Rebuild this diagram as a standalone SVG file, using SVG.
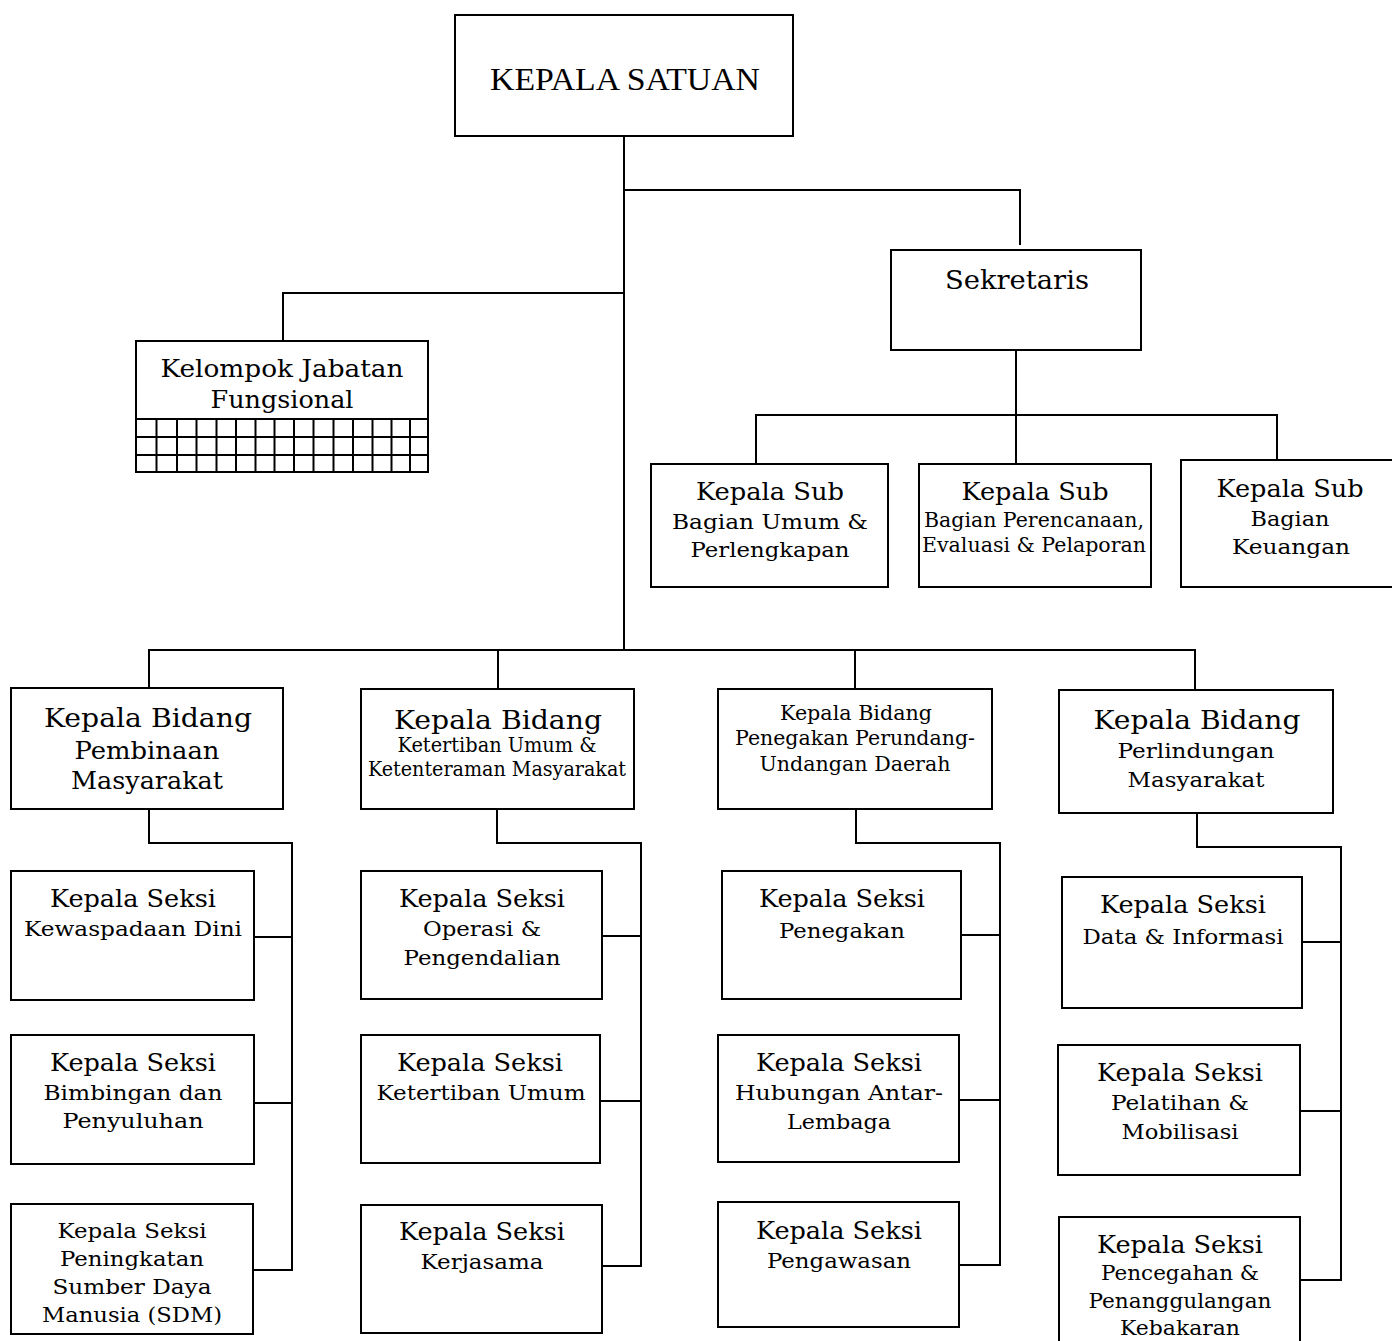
<svg xmlns="http://www.w3.org/2000/svg" width="1392" height="1341" viewBox="0 0 1392 1341">
<style>
rect.b{fill:#fff;stroke:#000;stroke-width:2}
#connectors path,#connectors line{fill:none;stroke:#000;stroke-width:2}
.grid line{stroke:#000;stroke-width:2}
text{font-family:"DejaVu Serif","Liberation Serif",serif;fill:#000;text-anchor:middle}
.h{font-family:"Liberation Serif",serif;font-size:32px}
.a{font-size:24px}
.s{font-size:21px}
.n{font-size:20px}
.k{font-size:26px}
</style>
<rect width="1392" height="1341" fill="#fff"/>
<g id="connectors">
<path d="M624 136V650"/>
<path d="M624 190H1020V245"/>
<path d="M624 293H283V341"/>
<path d="M1016 350V415"/>
<path d="M756 464V415H1277V460"/>
<path d="M1016 415V464"/>
<path d="M149 688V650H1195V690"/>
<path d="M498 650V689"/>
<path d="M855 650V689"/>
<path d="M149 809V843H292V1270H253"/>
<path d="M254 937H292"/>
<path d="M254 1103H292"/>
<path d="M497 809V843H641V1266H602"/>
<path d="M602 936H641"/>
<path d="M600 1101H641"/>
<path d="M856 809V843H1000V1265H959"/>
<path d="M961 935H1000"/>
<path d="M959 1100H1000"/>
<path d="M1197 813V847H1341V1280H1300"/>
<path d="M1302 942H1341"/>
<path d="M1300 1111H1341"/>
</g>
<g id="kepala-satuan">
<rect class="b" x="455" y="15" width="338" height="121"/>
<text class="h" x="625" y="90" textLength="270" lengthAdjust="spacingAndGlyphs">KEPALA SATUAN</text>
</g>
<g id="sekretaris">
<rect class="b" x="891" y="250" width="250" height="100"/>
<text class="k" x="1017" y="289" textLength="144" lengthAdjust="spacingAndGlyphs">Sekretaris</text>
</g>
<g id="kelompok-jabatan">
<rect class="b" x="136" y="341" width="292" height="131"/>
<text class="a" x="282" y="377" textLength="243" lengthAdjust="spacingAndGlyphs">Kelompok Jabatan</text>
<text class="a" x="282" y="408" textLength="143" lengthAdjust="spacingAndGlyphs">Fungsional</text>
<g class="grid">
<line x1="136" y1="419" x2="428" y2="419"/>
<line x1="136" y1="437" x2="428" y2="437"/>
<line x1="136" y1="455" x2="428" y2="455"/>
<line x1="156.5" y1="419" x2="156.5" y2="472"/>
<line x1="177" y1="419" x2="177" y2="472"/>
<line x1="196.5" y1="419" x2="196.5" y2="472"/>
<line x1="216.5" y1="419" x2="216.5" y2="472"/>
<line x1="236" y1="419" x2="236" y2="472"/>
<line x1="255.5" y1="419" x2="255.5" y2="472"/>
<line x1="274.5" y1="419" x2="274.5" y2="472"/>
<line x1="294" y1="419" x2="294" y2="472"/>
<line x1="313.5" y1="419" x2="313.5" y2="472"/>
<line x1="333.5" y1="419" x2="333.5" y2="472"/>
<line x1="353" y1="419" x2="353" y2="472"/>
<line x1="372.5" y1="419" x2="372.5" y2="472"/>
<line x1="391.5" y1="419" x2="391.5" y2="472"/>
<line x1="410" y1="419" x2="410" y2="472"/>
</g>
</g>
<g id="subbag-umum">
<rect class="b" x="651" y="464" width="237" height="123"/>
<text class="a" x="770" y="500" textLength="148" lengthAdjust="spacingAndGlyphs">Kepala Sub</text>
<text class="s" x="770" y="529" textLength="196" lengthAdjust="spacingAndGlyphs">Bagian Umum &amp;</text>
<text class="s" x="770" y="557" textLength="159" lengthAdjust="spacingAndGlyphs">Perlengkapan</text>
</g>
<g id="subbag-perencanaan">
<rect class="b" x="919" y="464" width="232" height="123"/>
<text class="a" x="1035" y="500" textLength="147" lengthAdjust="spacingAndGlyphs">Kepala Sub</text>
<text class="n" x="1034" y="527" textLength="220" lengthAdjust="spacingAndGlyphs">Bagian Perencanaan,</text>
<text class="n" x="1034" y="552" textLength="224" lengthAdjust="spacingAndGlyphs">Evaluasi &amp; Pelaporan</text>
</g>
<g id="subbag-keuangan">
<rect class="b" x="1181" y="460" width="215" height="127"/>
<text class="a" x="1290" y="497" textLength="147" lengthAdjust="spacingAndGlyphs">Kepala Sub</text>
<text class="s" x="1290" y="526" textLength="79" lengthAdjust="spacingAndGlyphs">Bagian</text>
<text class="s" x="1291" y="554" textLength="118" lengthAdjust="spacingAndGlyphs">Keuangan</text>
</g>
<g id="bidang-pembinaan">
<rect class="b" x="11" y="688" width="272" height="121"/>
<text class="k" x="148" y="727" textLength="208" lengthAdjust="spacingAndGlyphs">Kepala Bidang</text>
<text class="a" x="147" y="759" textLength="145" lengthAdjust="spacingAndGlyphs">Pembinaan</text>
<text class="a" x="147" y="789" textLength="152" lengthAdjust="spacingAndGlyphs">Masyarakat</text>
</g>
<g id="bidang-ketertiban">
<rect class="b" x="361" y="689" width="273" height="120"/>
<text class="k" x="498" y="729" textLength="208" lengthAdjust="spacingAndGlyphs">Kepala Bidang</text>
<text class="n" x="497" y="752" textLength="199" lengthAdjust="spacingAndGlyphs">Ketertiban Umum &amp;</text>
<text class="n" x="497" y="776" textLength="258" lengthAdjust="spacingAndGlyphs">Ketenteraman Masyarakat</text>
</g>
<g id="bidang-penegakan">
<rect class="b" x="718" y="689" width="274" height="120"/>
<text class="n" x="856" y="720" textLength="152" lengthAdjust="spacingAndGlyphs">Kepala Bidang</text>
<text class="n" x="855" y="745" textLength="240" lengthAdjust="spacingAndGlyphs">Penegakan Perundang-</text>
<text class="n" x="855" y="771" textLength="191" lengthAdjust="spacingAndGlyphs">Undangan Daerah</text>
</g>
<g id="bidang-perlindungan">
<rect class="b" x="1059" y="690" width="274" height="123"/>
<text class="k" x="1197" y="729" textLength="207" lengthAdjust="spacingAndGlyphs">Kepala Bidang</text>
<text class="s" x="1196" y="758" textLength="157" lengthAdjust="spacingAndGlyphs">Perlindungan</text>
<text class="s" x="1196" y="787" textLength="137" lengthAdjust="spacingAndGlyphs">Masyarakat</text>
</g>
<g id="seksi-kewaspadaan">
<rect class="b" x="11" y="871" width="243" height="129"/>
<text class="a" x="133" y="907" textLength="166" lengthAdjust="spacingAndGlyphs">Kepala Seksi</text>
<text class="s" x="133" y="936" textLength="218" lengthAdjust="spacingAndGlyphs">Kewaspadaan Dini</text>
</g>
<g id="seksi-bimbingan">
<rect class="b" x="11" y="1035" width="243" height="129"/>
<text class="a" x="133" y="1071" textLength="166" lengthAdjust="spacingAndGlyphs">Kepala Seksi</text>
<text class="s" x="133" y="1100" textLength="179" lengthAdjust="spacingAndGlyphs">Bimbingan dan</text>
<text class="s" x="133" y="1128" textLength="141" lengthAdjust="spacingAndGlyphs">Penyuluhan</text>
</g>
<g id="seksi-sdm">
<rect class="b" x="11" y="1204" width="242" height="130"/>
<text class="s" x="132" y="1238" textLength="149" lengthAdjust="spacingAndGlyphs">Kepala Seksi</text>
<text class="s" x="132" y="1266" textLength="144" lengthAdjust="spacingAndGlyphs">Peningkatan</text>
<text class="s" x="132" y="1294" textLength="159" lengthAdjust="spacingAndGlyphs">Sumber Daya</text>
<text class="s" x="132" y="1322" textLength="180" lengthAdjust="spacingAndGlyphs">Manusia (SDM)</text>
</g>
<g id="seksi-operasi">
<rect class="b" x="361" y="871" width="241" height="128"/>
<text class="a" x="482" y="907" textLength="166" lengthAdjust="spacingAndGlyphs">Kepala Seksi</text>
<text class="s" x="482" y="936" textLength="118" lengthAdjust="spacingAndGlyphs">Operasi &amp;</text>
<text class="s" x="482" y="965" textLength="157" lengthAdjust="spacingAndGlyphs">Pengendalian</text>
</g>
<g id="seksi-ketertiban">
<rect class="b" x="361" y="1035" width="239" height="128"/>
<text class="a" x="480" y="1071" textLength="166" lengthAdjust="spacingAndGlyphs">Kepala Seksi</text>
<text class="s" x="481" y="1100" textLength="209" lengthAdjust="spacingAndGlyphs">Ketertiban Umum</text>
</g>
<g id="seksi-kerjasama">
<rect class="b" x="361" y="1205" width="241" height="128"/>
<text class="a" x="482" y="1240" textLength="166" lengthAdjust="spacingAndGlyphs">Kepala Seksi</text>
<text class="s" x="482" y="1269" textLength="123" lengthAdjust="spacingAndGlyphs">Kerjasama</text>
</g>
<g id="seksi-penegakan">
<rect class="b" x="722" y="871" width="239" height="128"/>
<text class="a" x="842" y="907" textLength="166" lengthAdjust="spacingAndGlyphs">Kepala Seksi</text>
<text class="s" x="842" y="938" textLength="126" lengthAdjust="spacingAndGlyphs">Penegakan</text>
</g>
<g id="seksi-hubungan">
<rect class="b" x="718" y="1035" width="241" height="127"/>
<text class="a" x="839" y="1071" textLength="166" lengthAdjust="spacingAndGlyphs">Kepala Seksi</text>
<text class="s" x="839" y="1100" textLength="208" lengthAdjust="spacingAndGlyphs">Hubungan Antar-</text>
<text class="s" x="839" y="1129" textLength="104" lengthAdjust="spacingAndGlyphs">Lembaga</text>
</g>
<g id="seksi-pengawasan">
<rect class="b" x="718" y="1202" width="241" height="125"/>
<text class="a" x="839" y="1239" textLength="166" lengthAdjust="spacingAndGlyphs">Kepala Seksi</text>
<text class="s" x="839" y="1268" textLength="144" lengthAdjust="spacingAndGlyphs">Pengawasan</text>
</g>
<g id="seksi-data">
<rect class="b" x="1062" y="877" width="240" height="131"/>
<text class="a" x="1183" y="913" textLength="166" lengthAdjust="spacingAndGlyphs">Kepala Seksi</text>
<text class="s" x="1183" y="944" textLength="201" lengthAdjust="spacingAndGlyphs">Data &amp; Informasi</text>
</g>
<g id="seksi-pelatihan">
<rect class="b" x="1058" y="1045" width="242" height="130"/>
<text class="a" x="1180" y="1081" textLength="166" lengthAdjust="spacingAndGlyphs">Kepala Seksi</text>
<text class="s" x="1180" y="1110" textLength="138" lengthAdjust="spacingAndGlyphs">Pelatihan &amp;</text>
<text class="s" x="1180" y="1139" textLength="117" lengthAdjust="spacingAndGlyphs">Mobilisasi</text>
</g>
<g id="seksi-pencegahan">
<rect class="b" x="1059" y="1217" width="241" height="140"/>
<text class="a" x="1180" y="1253" textLength="166" lengthAdjust="spacingAndGlyphs">Kepala Seksi</text>
<text class="s" x="1180" y="1280" textLength="158" lengthAdjust="spacingAndGlyphs">Pencegahan &amp;</text>
<text class="s" x="1180" y="1308" textLength="183" lengthAdjust="spacingAndGlyphs">Penanggulangan</text>
<text class="s" x="1180" y="1335" textLength="120" lengthAdjust="spacingAndGlyphs">Kebakaran</text>
</g>
</svg>
